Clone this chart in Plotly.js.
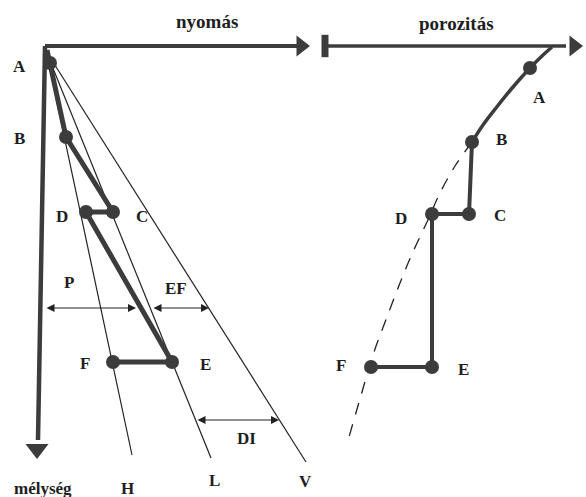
<!DOCTYPE html>
<html>
<head>
<meta charset="utf-8">
<script src="https://cdn.plot.ly/plotly-3.0.1.min.js"></script>
<style>
  html, body { margin: 0; padding: 0; background: #fff; }
  #plot { width: 586px; height: 497px; }
</style>
</head>
<body>
<div id="plot"></div>
<script>
// Pressure side (left panel): points in drawing units
let pressNames = ['A', 'B', 'C', 'D', 'E', 'F'];
let pressX = [50, 66, 113, 86, 172, 113];
let pressY = [63, 137, 212, 212, 362, 362];

// Trend lines from the origin: hydrostatic, lithostatic, vertical
let trendNames = ['H', 'L', 'V'];
let trendEndX = [132, 211, 306];
let trendEndY = [455, 458, 462];

// Porosity side (right panel)
let poroNames = ['A', 'B', 'C', 'D', 'E', 'F'];
let poroX = [530, 472, 469, 432, 432, 371];
let poroY = [68, 142, 214, 214, 367, 367];

// Normal compaction curve (solid to B, dashed below)
let curveX = [552, 542, 530, 513, 496, 483, 472];
let curveY = [47, 56, 68, 87, 108, 125, 142];
let dashX = [472, 455, 440, 427, 412, 400, 387, 374, 362, 349];
let dashY = [142, 166, 193, 222, 254, 283, 317, 352, 392, 437];

let origin = [45, 46];
let dark = '#3c3c3c';
let ink = '#222';
let font = {family: 'Liberation Serif', size: 17, color: '#1e1e1e'};
let bigFont = {family: 'Liberation Serif', size: 19, color: '#1e1e1e'};

let traces = [];

// thin trend lines
for (let i = 0; i < trendNames.length; i++) {
    traces.push({
        x: [origin[0] + 1, trendEndX[i]],
        y: [origin[1] + 5, trendEndY[i]],
        mode: 'lines',
        line: {color: ink, width: 1.2},
        hoverinfo: 'skip'
    });
}

// thick pressure path A-B-C-D-E-F
traces.push({
    x: [origin[0] + 2].concat(pressX),
    y: [origin[1] + 4].concat(pressY),
    mode: 'lines',
    line: {color: dark, width: 5},
    hoverinfo: 'skip'
});
traces.push({
    x: pressX,
    y: pressY,
    mode: 'markers',
    marker: {color: dark, size: 14},
    hoverinfo: 'skip'
});

// porosity curve
traces.push({
    x: curveX,
    y: curveY,
    mode: 'lines',
    line: {color: dark, width: 3.5, shape: 'spline'},
    hoverinfo: 'skip'
});
traces.push({
    x: dashX,
    y: dashY,
    mode: 'lines',
    line: {color: ink, width: 1.3, dash: '12px,10px', shape: 'spline'},
    hoverinfo: 'skip'
});
traces.push({
    x: poroX.slice(1),
    y: poroY.slice(1),
    mode: 'lines',
    line: {color: dark, width: 4},
    hoverinfo: 'skip'
});
traces.push({
    x: poroX,
    y: poroY,
    mode: 'markers',
    marker: {color: dark, size: 14},
    hoverinfo: 'skip'
});

// axes lines
traces.push({
    x: [origin[0], 298],
    y: [origin[1], origin[1]],
    mode: 'lines',
    line: {color: dark, width: 4},
    hoverinfo: 'skip'
});
traces.push({
    x: [origin[0], 38],
    y: [origin[1], 440],
    mode: 'lines',
    line: {color: dark, width: 4.5},
    hoverinfo: 'skip'
});
traces.push({
    x: [326, 566],
    y: [46, 46],
    mode: 'lines',
    line: {color: dark, width: 3.5},
    hoverinfo: 'skip'
});
// axis break blob
traces.push({
    x: [325],
    y: [46],
    mode: 'markers',
    marker: {symbol: 'line-ns', size: 16, line: {color: dark, width: 7}},
    hoverinfo: 'skip'
});
// arrow heads
traces.push({
    x: [301, 574],
    y: [46, 46],
    mode: 'markers',
    marker: {symbol: 'triangle-right', size: 18, color: dark},
    hoverinfo: 'skip'
});
traces.push({
    x: [37],
    y: [449],
    mode: 'markers',
    marker: {symbol: 'triangle-down', size: 20, color: dark},
    hoverinfo: 'skip'
});

// labels
let labels = [
    {x: 43, y: 488, text: 'mélység'},
    {x: 69, y: 282, text: 'P'},
    {x: 176, y: 288, text: 'EF'},
    {x: 246, y: 438, text: 'DI'}
];
let pressLabelPos = [[19, 66], [19, 138], [142, 216], [62, 216], [205, 364], [85, 363]];
for (let i = 0; i < pressNames.length; i++) {
    labels.push({x: pressLabelPos[i][0], y: pressLabelPos[i][1], text: pressNames[i]});
}
let poroLabelPos = [[539, 97], [501, 139], [500, 215], [401, 218], [463, 369], [341, 365]];
for (let i = 0; i < poroNames.length; i++) {
    labels.push({x: poroLabelPos[i][0], y: poroLabelPos[i][1], text: poroNames[i]});
}
let trendLabelX = [127, 214, 305];
let trendLabelY = [488, 480, 481];
for (let i = 0; i < trendNames.length; i++) {
    labels.push({x: trendLabelX[i], y: trendLabelY[i], text: trendNames[i]});
}

let annotations = labels.map(l => ({
    x: l.x, y: l.y, text: '<b>' + l.text + '</b>',
    showarrow: false, font: font, xanchor: 'center', yanchor: 'middle'
}));

// axis titles
let axisTitles = [
    {x: 207, y: 21, text: 'nyomás'},
    {x: 456, y: 23, text: 'porozitás'}
];
axisTitles.forEach(t => annotations.push({
    x: t.x, y: t.y, text: '<b>' + t.text + '</b>',
    showarrow: false, font: bigFont, xanchor: 'center', yanchor: 'middle'
}));

// double-headed measure arrows
function measure(x0, x1, y) {
    return {
        x: x1, y: y, ax: x0, ay: y,
        xref: 'x', yref: 'y', axref: 'x', ayref: 'y',
        showarrow: true, arrowhead: 2, arrowside: 'end+start',
        arrowsize: 1.6, arrowwidth: 1, arrowcolor: ink, text: ''
    };
}
annotations.push(measure(45, 136, 308));
annotations.push(measure(152, 209, 308));
annotations.push(measure(196, 279, 420));

let layout = {
    width: 586,
    height: 497,
    margin: {l: 0, r: 0, t: 0, b: 0},
    paper_bgcolor: '#fff',
    plot_bgcolor: '#fff',
    showlegend: false,
    xaxis: {range: [0, 586], visible: false, fixedrange: true},
    yaxis: {range: [497, 0], visible: false, fixedrange: true},
    annotations: annotations
};

Plotly.newPlot('plot', traces, layout, {displayModeBar: false, staticPlot: true});
</script>
</body>
</html>
